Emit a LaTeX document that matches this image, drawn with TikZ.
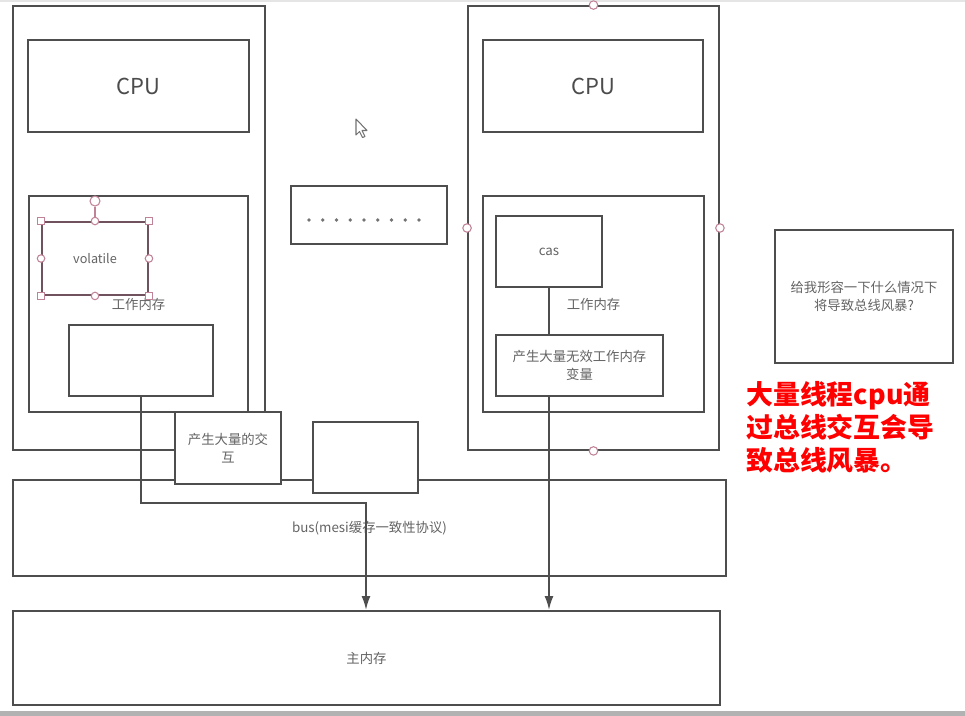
\documentclass[tikz,border=0pt]{standalone}
\usepackage{fontspec}
\newfontfamily\cjk{Noto Sans CJK SC}
\usetikzlibrary{arrows.meta,positioning,calc}
\definecolor{edgegray}{RGB}{78,78,78}
\definecolor{textgray}{RGB}{100,100,100}
\definecolor{gripred}{RGB}{192,130,150}
\definecolor{selborder}{RGB}{112,82,94}
\definecolor{framegray}{RGB}{178,178,178}
\tikzset{
  hwbox/.style={draw=edgegray,line width=1.1pt,fill=white,inner sep=0pt,align=center,
    text=textgray,font=\cjk\fontsize{7.6}{10.2}\selectfont},
  cpubox/.style={hwbox,font=\cjk\fontsize{12.5}{14}\selectfont,text=black!70},
  selbox/.style={hwbox,draw=selborder,font=\cjk\fontsize{7.2}{9}\selectfont},
  gripsq/.style={draw=gripred,fill=white,line width=0.6pt,inner sep=0pt,minimum size=0.13cm},
  gripc/.style={gripsq,circle,minimum size=0.15cm},
  flow/.style={-{Latex[length=2.8mm,width=1.8mm]},line width=1.1pt,draw=edgegray},
  link/.style={line width=1.1pt,draw=edgegray},
  redlbl/.style={text=red,align=left,inner sep=0pt,font=\cjk\bfseries\fontsize{15.3}{18.7}\selectfont}
}
\begin{document}
\begin{tikzpicture}[x=0.02cm,y=-0.02cm]
  \useasboundingbox (0,0) rectangle (965,716);
  \fill[white] (0,0) rectangle (965,716);
  \fill[black!10] (0,0) rectangle (965,2);
  \fill[framegray] (0,711) rectangle (965,716);

  % left core
  \node[hwbox,minimum width=5.04cm,minimum height=8.88cm] (procL) at (139,228) {};
  \node[cpubox,minimum width=4.42cm,minimum height=1.84cm] (cpuL) at (138.5,86) {CPU};
  \node[hwbox,minimum width=4.38cm,minimum height=4.32cm] (wmL) at (138.5,304) {工作内存};
  \node[selbox,minimum width=2.12cm,minimum height=1.46cm] (volL) at (95,258.5) {volatile};
  \node[hwbox,minimum width=2.88cm,minimum height=1.42cm] (innerL) at (141,360.5) {};
  \foreach \a [count=\k] in {north west,north east,south west,south east}
    \node[gripsq] (volsq\k) at (volL.\a) {};
  \foreach \a [count=\k] in {north,south,east,west}
    \node[gripc] (volc\k) at (volL.\a) {};
  \node[gripc,minimum size=0.2cm] (volrot) at ($(volL.north)+(0,-20)$) {};
  \draw[gripred,line width=0.6pt] (volrot) -- (volc1);

  % right core
  \node[hwbox,minimum width=5.02cm,minimum height=8.88cm] (procR) at (593.5,228) {};
  \foreach \a [count=\k] in {north,south,east,west}
    \node[gripc,minimum size=0.17cm] (procc\k) at (procR.\a) {};
  \node[cpubox,minimum width=4.40cm,minimum height=1.84cm] (cpuR) at (593,86) {CPU};
  \node[hwbox,minimum width=4.42cm,minimum height=4.32cm] (wmR) at (593.5,304) {工作内存};
  \node[hwbox,minimum width=2.12cm,minimum height=1.42cm] (casR) at (549,251.5) {cas};
  \node[hwbox,minimum width=3.34cm,minimum height=1.22cm] (invR) at (579.5,365.5) {产生大量无效工作内存\\变量};

  % middle
  \node[hwbox,minimum width=3.12cm,minimum height=1.16cm] (dots) at (369,215) {};
  \foreach \i in {0,...,8}
    \fill[black!55] ($(dots.west)+(19+\i*13.75,5)$) circle (1.1pt);
  \draw[black!55,fill=white,line width=0.6pt,line join=round]
    (356,119) -- (356,135) -- (359.5,131.5) -- (362.5,137.5) -- (365,136.5)
    -- (362,130.5) -- (367,130.5) -- cycle;

  % bus and memory
  \node[hwbox,minimum width=14.26cm,minimum height=1.92cm] (bus) at (369.5,528) {bus(mesi缓存一致性协议)};
  \node[hwbox,minimum width=14.14cm,minimum height=1.88cm] (mem) at (366.5,658) {主内存};
  \node[hwbox,minimum width=2.12cm,minimum height=1.44cm] (interL) at (228,448) {产生大量的交\\互};
  \node[hwbox,minimum width=2.10cm,minimum height=1.42cm] (emptyM) at (365.5,457.5) {};

  % side notes
  \node[hwbox,minimum width=3.56cm,minimum height=2.66cm] (ask) at (864,296.5) {给我形容一下什么情况下\\将导致总线风暴?};
  \node[redlbl,anchor=north west] (answer) at (746,381) {大量线程cpu通\\过总线交互会导\\致总线风暴。};

  % connectors
  \coordinate (busjoin) at (366,503);
  \draw[flow] (innerL.south) |- (busjoin) -- (busjoin |- mem.north);
  \draw[link] (casR.south) -- (casR.south |- invR.north);
  \draw[flow] (casR.south |- invR.south) -- (casR.south |- mem.north);
\end{tikzpicture}
\end{document}
